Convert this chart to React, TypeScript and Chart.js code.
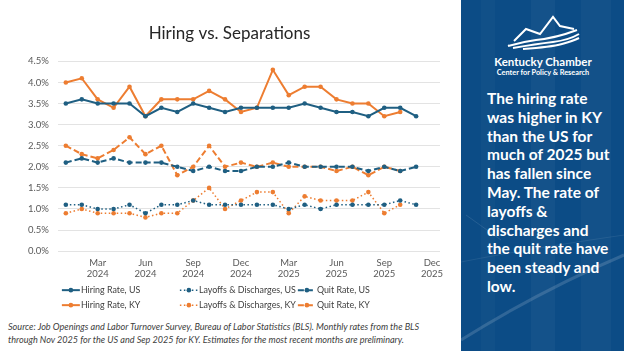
import React, { useEffect, useRef } from "react";
import { Chart, registerables } from "chart.js";

Chart.register(...registerables);

// ---- Data ----
const months = [
  "Jan 2024", "Feb 2024", "Mar 2024", "Apr 2024", "May 2024", "Jun 2024",
  "Jul 2024", "Aug 2024", "Sep 2024", "Oct 2024", "Nov 2024", "Dec 2024",
  "Jan 2025", "Feb 2025", "Mar 2025", "Apr 2025", "May 2025", "Jun 2025",
  "Jul 2025", "Aug 2025", "Sep 2025", "Oct 2025", "Nov 2025", "Dec 2025",
];
const tickMonths = ["Mar", "Jun", "Sep", "Dec"];

const hiringUS = [3.5, 3.6, 3.5, 3.5, 3.5, 3.2, 3.4, 3.3, 3.5, 3.4, 3.3, 3.4, 3.4, 3.4, 3.4, 3.5, 3.4, 3.3, 3.3, 3.2, 3.4, 3.4, 3.2];
const layoffsUS = [1.1, 1.1, 1.0, 1.0, 1.1, 0.9, 1.1, 1.1, 1.2, 1.1, 1.1, 1.1, 1.1, 1.1, 1.0, 1.1, 1.0, 1.1, 1.1, 1.1, 1.1, 1.2, 1.1];
const quitUS = [2.1, 2.2, 2.1, 2.2, 2.1, 2.1, 2.1, 2.0, 1.9, 2.0, 1.9, 1.9, 2.0, 2.0, 2.1, 2.0, 2.0, 2.0, 2.0, 1.9, 2.0, 1.9, 2.0];
const hiringKY = [4.0, 4.1, 3.6, 3.4, 3.9, 3.2, 3.6, 3.6, 3.6, 3.8, 3.6, 3.3, 3.4, 4.3, 3.7, 3.9, 3.9, 3.6, 3.5, 3.5, 3.2, 3.3];
const layoffsKY = [0.9, 1.0, 0.9, 0.9, 0.9, 0.8, 0.9, 0.9, 1.2, 1.5, 1.0, 1.2, 1.4, 1.4, 0.9, 1.3, 1.2, 1.2, 1.2, 1.4, 0.9, 1.1];
const quitKY = [2.5, 2.3, 2.2, 2.4, 2.7, 2.3, 2.5, 1.8, 2.0, 2.5, 2.0, 2.1, 2.0, 2.1, 2.0, 2.0, 2.0, 1.9, 2.0, 1.8, 2.0, 1.9];

const panelLines = [
  "The hiring rate",
  "was higher in KY",
  "than the US for",
  "much of 2025 but",
  "has fallen since",
  "May. The rate of",
  "layoffs &",
  "discharges and",
  "the quit rate have",
  "been steady and",
  "low.",
];

const BLUE = "#1F5F82";
const ORANGE = "#ED7D31";
const FONT = "Lato";

const legendPlugin = {
  id: "gridLegend",
  afterDraw(chart: any) {
    const ctx = chart.ctx;
    const area = chart.chartArea;
    const ds = chart.data.datasets;
    ctx.save();
    ds.forEach((d: any, i: number) => {
      const col = i % 3;
      const row = Math.floor(i / 3);
      const x = area.left + 4 + col * 118;
      const y = area.bottom + 39 + row * 15;
      ctx.strokeStyle = d.borderColor;
      ctx.lineWidth = d.borderWidth;
      ctx.setLineDash(d.borderDash || []);
      ctx.beginPath();
      ctx.moveTo(x, y);
      ctx.lineTo(x + 18, y);
      ctx.stroke();
      ctx.setLineDash([]);
      ctx.fillStyle = d.borderColor;
      ctx.beginPath();
      ctx.arc(x + 9, y, 2.3, 0, Math.PI * 2);
      ctx.fill();
      ctx.fillStyle = "#404040";
      ctx.font = `8.9px ${FONT}`;
      ctx.textBaseline = "middle";
      ctx.textAlign = "left";
      ctx.fillText(d.label, x + 19, y);
    });
    ctx.restore();
  },
};

function mk(label: string, data: number[], color: string, kind: "solid" | "dot" | "dash") {
  return {
    label,
    data,
    borderColor: color,
    backgroundColor: color,
    borderWidth: kind === "dot" ? 1.5 : 2,
    borderDash: kind === "dot" ? [1.5, 2.5] : kind === "dash" ? [6, 3] : [],
    pointRadius: 2.3,
    pointBorderWidth: 0,
    pointBackgroundColor: color,
    tension: 0,
    fill: false,
  };
}

export default function App() {
  const ref = useRef<HTMLCanvasElement>(null);

  useEffect(() => {
    const chart = new Chart(ref.current as HTMLCanvasElement, {
      type: "line",
      data: {
        labels: months,
        datasets: [
          mk("Hiring Rate, US", hiringUS, BLUE, "solid"),
          mk("Layoffs & Discharges, US", layoffsUS, BLUE, "dot"),
          mk("Quit Rate, US", quitUS, BLUE, "dash"),
          mk("Hiring Rate, KY", hiringKY, ORANGE, "solid"),
          mk("Layoffs & Discharges, KY", layoffsKY, ORANGE, "dot"),
          mk("Quit Rate, KY", quitKY, ORANGE, "dash"),
        ] as any,
      },
      options: {
        responsive: false,
        animation: false,
        layout: { padding: { left: 19, right: 20, top: 0, bottom: 31 } },
        plugins: {
          legend: { display: false },
          tooltip: { enabled: false },
          title: {
            display: true,
            text: "Hiring vs. Separations",
            color: "#262626",
            font: { family: FONT, size: 17, weight: "normal" },
            padding: { top: 23, bottom: 18 },
          },
        },
        scales: {
          x: {
            offset: true,
            grid: { display: false, drawTicks: false },
            border: { display: false },
            ticks: {
              autoSkip: false,
              maxRotation: 0,
              padding: 6,
              color: "#595959",
              font: { family: FONT, size: 9.5, lineHeight: 1.15 },
              callback: (_v: any, i: number) => {
                const [m, y] = months[i].split(" ");
                return tickMonths.includes(m) ? [m, y] : "";
              },
            },
          },
          y: {
            min: 0,
            max: 4.5,
            grid: { color: "#E3E3E3", drawTicks: false, lineWidth: 1 },
            border: { display: false },
            ticks: {
              stepSize: 0.5,
              padding: 9,
              color: "#595959",
              font: { family: FONT, size: 9.5 },
              callback: (v: any) => Number(v).toFixed(1) + "%",
            },
          },
        },
      },
      plugins: [legendPlugin],
    });
    (document as any).fonts?.ready?.then(() => chart.update());
    return () => chart.destroy();
  }, []);

  return (
    <div
      style={{
        position: "fixed",
        left: 0,
        top: 0,
        width: 624,
        height: 351,
        background: "#ffffff",
        overflow: "hidden",
        fontFamily: FONT,
      }}
    >
      <div style={{ position: "absolute", left: 0, top: 0, width: 460, height: 316 }}>
        <canvas ref={ref} width={460} height={316} />
      </div>
      <div
        style={{
          position: "absolute",
          left: 8,
          top: 321,
          width: 452,
          fontStyle: "italic",
          fontSize: 9.1,
          lineHeight: "12.5px",
          color: "#404040",
          whiteSpace: "nowrap",
        }}
      >
        Source: Job Openings and Labor Turnover Survey, Bureau of Labor Statistics (BLS). Monthly rates from the BLS
        <br />
        through Nov 2025 for the US and Sep 2025 for KY. Estimates for the most recent months are preliminary.
      </div>
      <div
        style={{
          position: "absolute",
          left: 461,
          top: 0,
          width: 163,
          height: 351,
          background: "#0C4C86",
          overflow: "hidden",
        }}
      >
        <svg width={163} height={351} style={{ position: "absolute", left: 0, top: 0 }}>
          <rect x={70} y={0} width={24} height={351} fill="#ffffff" opacity={0.035} />
          <rect x={120} y={0} width={30} height={351} fill="#ffffff" opacity={0.03} />
          <rect x={20} y={0} width={14} height={351} fill="#ffffff" opacity={0.025} />
          <path d="M 0 340 Q 80 290 163 255" stroke="#ffffff" strokeOpacity={0.15} strokeWidth={3} fill="none" />
          <path d="M 0 262 Q 60 250 163 235" stroke="#ffffff" strokeOpacity={0.08} strokeWidth={1} fill="none" />
          <path d="M 5 215 L 40 240" stroke="#ffffff" strokeOpacity={0.1} strokeWidth={1} fill="none" />
          {/* logo */}
          <g stroke="#ffffff" strokeWidth={2} fill="none" strokeLinejoin="miter">
            <polyline points="53,41 65,29 79,34 92,17 99,26 113,29" />
            <path d="M 47 46 Q 60 42 75 40 Q 95 38 116 30" />
            <path d="M 52 48 Q 75 44 92 42 Q 108 40 118 34" />
            <path d="M 62 49 Q 90 47 101 44 Q 112 41 118 38" />
          </g>
          <text x={82} y={66} fill="#ffffff" fontFamily={FONT} fontWeight={700} fontSize={11.5} textAnchor="middle">
            Kentucky Chamber
          </text>
          <text x={82} y={75} fill="#ffffff" fontFamily={FONT} fontWeight={700} fontSize={7.3} textAnchor="middle">
            Center for Policy &amp; Research
          </text>
        </svg>
        <div
          style={{
            position: "absolute",
            left: 26,
            top: 89,
            color: "#ffffff",
            fontWeight: 700,
            fontSize: 15.5,
            lineHeight: "18.8px",
            whiteSpace: "nowrap",
          }}
        >
          {panelLines.map((l, i) => (
            <div key={i}>{l}</div>
          ))}
        </div>
      </div>
    </div>
  );
}
